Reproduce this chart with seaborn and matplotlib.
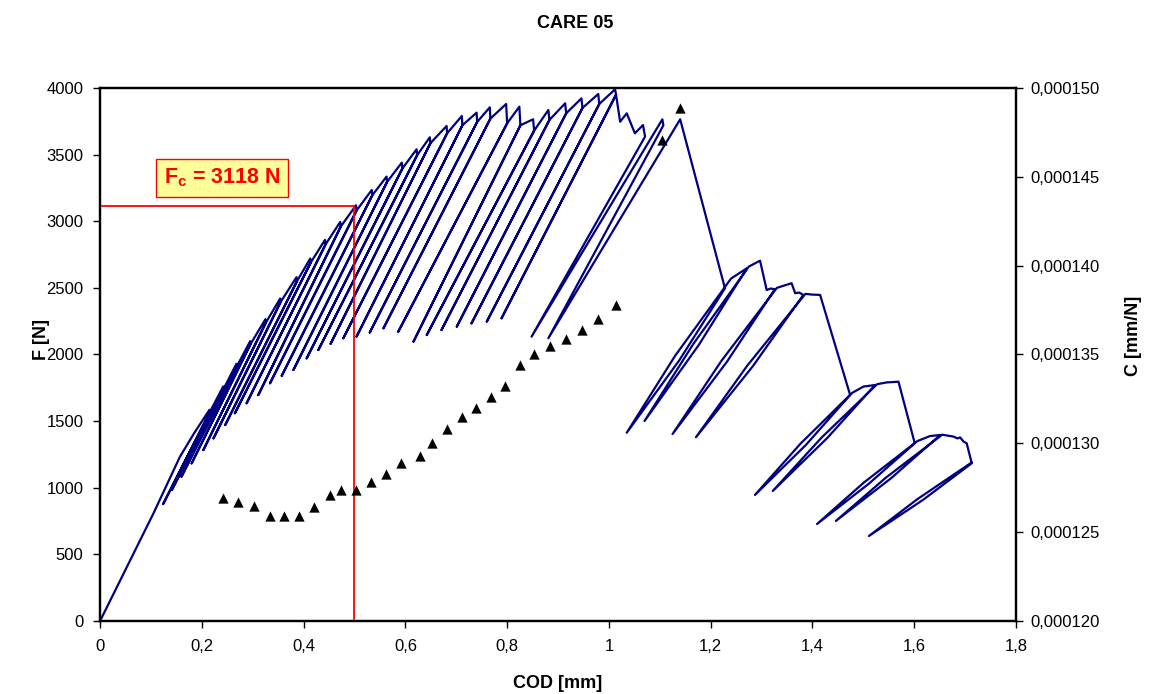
import matplotlib
matplotlib.use("Agg")
import matplotlib.pyplot as plt
import seaborn as sns

# envelope before the first unloading
start_cod = [0.0, 0.105, 0.157, 0.185]
start_force = [0, 808, 1233, 1410]

# first group of unload/reload cycles: peak, small drop, bottom of unloading
peak_cod = [0.215, 0.242, 0.268, 0.295, 0.325, 0.354, 0.386, 0.413, 0.442, 0.472, 0.503, 0.534, 0.563, 0.593,
            0.622, 0.648, 0.681, 0.711, 0.740, 0.766, 0.798, 0.824, 0.851, 0.881, 0.914, 0.946, 0.979, 1.012]
peak_force = [1585, 1760, 1930, 2100, 2265, 2420, 2580, 2720, 2860, 2995, 3120, 3235, 3335, 3440,
              3540, 3630, 3715, 3790, 3815, 3855, 3880, 3860, 3765, 3835, 3885, 3922, 3955, 3990]
drop_cod = [0.216, 0.243, 0.269, 0.296, 0.326, 0.355, 0.387, 0.414, 0.443, 0.473, 0.504, 0.535, 0.564, 0.594,
            0.623, 0.649, 0.682, 0.712, 0.741, 0.767, 0.800, 0.826, 0.853, 0.883, 0.916, 0.948, 0.981, 1.014]
drop_force = [1570, 1745, 1912, 2080, 2240, 2395, 2550, 2690, 2825, 2960, 3080, 3195, 3295, 3395,
              3495, 3585, 3660, 3720, 3745, 3770, 3735, 3720, 3680, 3760, 3810, 3850, 3880, 3950]
bottom_cod = [0.124, 0.141, 0.160, 0.180, 0.203, 0.223, 0.246, 0.265, 0.288, 0.311, 0.334, 0.357, 0.380, 0.406,
              0.429, 0.453, 0.478, 0.504, 0.530, 0.557, 0.586, 0.616, 0.642, 0.671, 0.701, 0.730, 0.760, 0.789]
bottom_force = [878, 983, 1083, 1183, 1283, 1371, 1471, 1559, 1634, 1696, 1784, 1840, 1884, 1971,
                2034, 2080, 2122, 2134, 2165, 2197, 2171, 2097, 2146, 2184, 2209, 2234, 2247, 2272]

# post-peak part: jagged drops and the later hysteresis loops
tail_cod = [1.022, 1.035, 1.051, 1.067, 1.071, 0.848, 1.105, 1.107, 0.881, 1.140, 1.228,
            1.138, 1.035, 1.130, 1.240, 1.271, 1.177, 1.070, 1.166, 1.275, 1.297, 1.310, 1.318, 1.326,
            1.232, 1.125, 1.221, 1.330, 1.359, 1.366, 1.374, 1.382,
            1.283, 1.171, 1.272, 1.386, 1.398, 1.415, 1.474,
            1.387, 1.287, 1.376, 1.478, 1.500, 1.523,
            1.429, 1.322, 1.418, 1.527, 1.545, 1.569, 1.601,
            1.511, 1.409, 1.501, 1.606, 1.631, 1.651,
            1.555, 1.446, 1.544, 1.655, 1.677, 1.685, 1.690, 1.697, 1.703, 1.713,
            1.618, 1.511, 1.606, 1.713]
tail_force = [3747, 3810, 3660, 3722, 3635, 2134, 3765, 3720, 2122, 3765, 2497,
              1955, 1413, 1990, 2570, 2647, 2074, 1501, 2080, 2660, 2704, 2484, 2495, 2490,
              1946, 1403, 1952, 2500, 2535, 2460, 2465, 2447,
              1913, 1379, 1917, 2455, 2450, 2447, 1696,
              1321, 946, 1329, 1712, 1759, 1771,
              1373, 976, 1377, 1777, 1790, 1796, 1334,
              1031, 728, 1039, 1350, 1388, 1396,
              1073, 751, 1075, 1398, 1384, 1370, 1378, 1346, 1334, 1184,
              911, 638, 914, 1190]

# compliance (right axis)
cod_c = [0.242, 0.272, 0.303, 0.333, 0.362, 0.390, 0.421, 0.451, 0.473, 0.502, 0.533, 0.562, 0.592, 0.629,
         0.652, 0.681, 0.711, 0.739, 0.768, 0.796, 0.825, 0.853, 0.884, 0.916, 0.948, 0.979, 1.013, 1.105, 1.140]
comp_c = [0.0001269, 0.0001267, 0.0001265, 0.0001259, 0.0001259, 0.0001259, 0.0001264, 0.0001271, 0.0001274,
          0.0001274, 0.0001278, 0.0001283, 0.0001289, 0.0001293, 0.0001300, 0.0001308, 0.0001315, 0.0001320,
          0.0001326, 0.0001332, 0.0001344, 0.0001350, 0.0001355, 0.0001359, 0.0001364, 0.0001370, 0.0001378,
          0.0001471, 0.0001489]

fc_cod = 0.5
fc_force = 3118

cod_ticks = [0, 0.2, 0.4, 0.6, 0.8, 1.0, 1.2, 1.4, 1.6, 1.8]
cod_tick_labels = ["0", "0,2", "0,4", "0,6", "0,8", "1", "1,2", "1,4", "1,6", "1,8"]
force_ticks = [0, 500, 1000, 1500, 2000, 2500, 3000, 3500, 4000]
c_ticks = [0.000120, 0.000125, 0.000130, 0.000135, 0.000140, 0.000145, 0.000150]
c_tick_labels = ["0,000120", "0,000125", "0,000130", "0,000135", "0,000140", "0,000145", "0,000150"]

sns.set_style("ticks")
plt.rcParams['font.family'] = ['Liberation Sans', 'DejaVu Sans']
plt.rcParams['mathtext.fontset'] = 'custom'
plt.rcParams['mathtext.rm'] = 'Liberation Sans'
plt.rcParams['mathtext.bf'] = 'Liberation Sans:bold'
plt.rcParams['text.color'] = 'black'
plt.rcParams['xtick.color'] = 'black'
plt.rcParams['ytick.color'] = 'black'
plt.rcParams['axes.labelcolor'] = 'black'

# build the force-COD path from the cycle arrays
cod_path = list(start_cod)
force_path = list(start_force)
for i in range(len(peak_cod)):
    cod_path += [peak_cod[i], drop_cod[i], bottom_cod[i], drop_cod[i]]
    force_path += [peak_force[i], drop_force[i], bottom_force[i], drop_force[i]]
cod_path += tail_cod
force_path += tail_force

fig = plt.figure(figsize=(11.5, 6.94), dpi=100)
ax = fig.add_axes([0.087, 0.1052, 0.7965, 0.768])

sns.lineplot(x=cod_path, y=force_path, sort=False, estimator=None, color='#000080', linewidth=1.6, ax=ax)

ax.plot([0, fc_cod], [fc_force, fc_force], color='red', linewidth=1.3, zorder=4)
ax.plot([fc_cod, fc_cod], [0, fc_force], color='red', linewidth=1.3, zorder=4)
ax.text(0.24, 3325, r'$\mathbf{F_{c}}$ = 3118 N', color='red', fontsize=15.5, fontweight='bold',
        ha='center', va='center', zorder=5,
        bbox=dict(boxstyle='square,pad=0.35', facecolor='#FFFF99', edgecolor='red', linewidth=1))

ax.set_xlim(0, 1.8)
ax.set_ylim(0, 4000)
ax.set_xticks(cod_ticks)
ax.set_xticklabels(cod_tick_labels)
ax.set_yticks(force_ticks)
ax.set_xlabel("")
ax.set_ylabel("")

ax2 = ax.twinx()
sns.scatterplot(x=cod_c, y=comp_c, marker='^', color='black', s=55, linewidth=0, ax=ax2)
ax2.set_ylim(0.000120, 0.000150)
ax2.set_yticks(c_ticks)
ax2.set_yticklabels(c_tick_labels)
ax2.set_ylabel("")

for a in (ax, ax2):
    for sp in a.spines.values():
        sp.set_visible(True)
        sp.set_linewidth(1.6)
        sp.set_color('black')
ax.tick_params(axis='x', direction='out', length=5, width=1, labelsize=12, pad=8)
ax.tick_params(axis='y', direction='out', length=5, width=1, labelsize=12, pad=7)
ax2.tick_params(axis='y', direction='out', length=5, width=1, labelsize=12, pad=5)

fig.text(0.5, 1 - 24 / 694, "CARE 05", ha='center', va='center', fontsize=13, fontweight='bold')
fig.text(558 / 1150, 1 - 683 / 694, "COD [mm]", ha='center', va='center', fontsize=13, fontweight='bold')
fig.text(42 / 1150, 1 - 340 / 694, "F [N]", ha='center', va='center', rotation=90, fontsize=13, fontweight='bold')
fig.text(1133 / 1150, 1 - 336 / 694, "C [mm/N]", ha='center', va='center', rotation=90, fontsize=13, fontweight='bold')

fig.savefig("out.png", dpi=100)
